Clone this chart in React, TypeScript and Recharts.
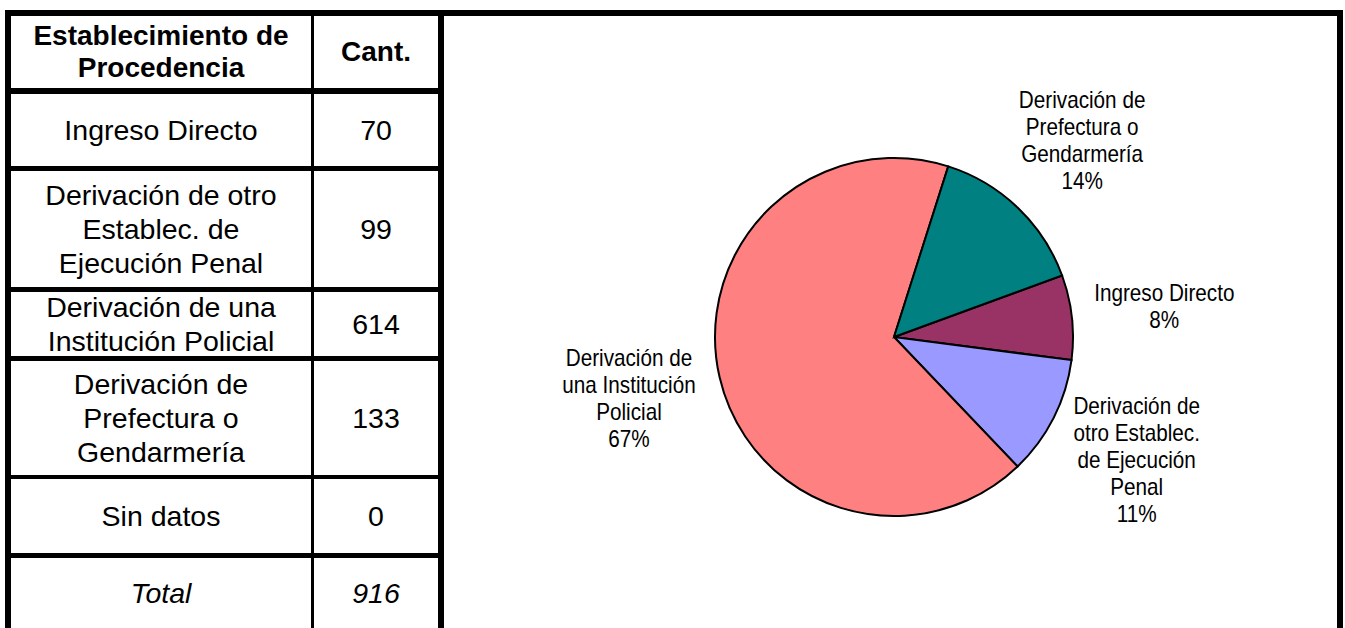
import { PieChart, Pie, Cell } from 'recharts';

// table rows, in table order
const categories = [
  'Ingreso Directo',
  'Derivación de otro\nEstablec. de\nEjecución Penal',
  'Derivación de una\nInstitución Policial',
  'Derivación de\nPrefectura o\nGendarmería',
  'Sin datos',
];
const counts = [70, 99, 614, 133, 0];

// pie labels as wrapped in the original chart
const pieLabelLines = [
  ['Ingreso Directo'],
  ['Derivación de', 'otro Establec.', 'de Ejecución', 'Penal'],
  ['Derivación de', 'una Institución', 'Policial'],
  ['Derivación de', 'Prefectura o', 'Gendarmería'],
  ['Sin datos'],
];
const pieShares = ['8%', '11%', '67%', '14%', '0%'];
const sliceColors = ['#993366', '#9999FF', '#FF8080', '#008080', '#FFFFCC'];

const headers = ['Establecimiento de\nProcedencia', 'Cant.'];
const totalLabel = 'Total';

const FONT = '"Liberation Sans", Arial, sans-serif';
const RAD = Math.PI / 180;

// layout of the table (column edges, row bands, inner rules)
const colLeft = [11, 314];
const colRight = [311, 438];
const rowBands = [
  [16, 88],
  [94, 166],
  [171, 287],
  [292, 356],
  [361, 475],
  [479, 553],
  [558, 628],
];
const hLines = [
  [88, 6],
  [166, 5],
  [287, 5],
  [356, 5],
  [475, 4],
  [553, 5],
];

const total = counts.reduce((a, b) => a + b, 0);

const pieData = categories
  .map((c, i) => ({
    name: c,
    value: counts[i],
    lines: pieLabelLines[i],
    share: pieShares[i],
    color: sliceColors[i],
  }))
  .filter((d) => d.value > 0);

function Rule({ x, y, w, h }: { x: number; y: number; w: number; h: number }) {
  return (
    <div
      style={{ position: 'absolute', left: x, top: y, width: w, height: h, background: '#000' }}
    />
  );
}

function TableCell({
  col,
  row,
  text,
  bold,
  italic,
}: {
  col: number;
  row: number;
  text: string;
  bold?: boolean;
  italic?: boolean;
}) {
  const [top, bottom] = rowBands[row];
  return (
    <div
      style={{
        position: 'absolute',
        left: colLeft[col],
        top,
        width: colRight[col] - colLeft[col],
        height: bottom - top,
        display: 'flex',
        alignItems: 'center',
        justifyContent: 'center',
        textAlign: 'center',
        whiteSpace: 'pre-line',
        fontFamily: FONT,
        fontSize: bold ? 28 : 28.5,
        lineHeight: bold ? '32px' : '34px',
        fontWeight: bold ? 'bold' : 'normal',
        fontStyle: italic ? 'italic' : 'normal',
        color: '#000',
      }}
    >
      {text}
    </div>
  );
}

// labels sit centred on a ring outside the pie, narrow type like Arial Narrow
const renderLabel = (p: any) => {
  const { cx, cy, midAngle, outerRadius, index } = p;
  const d = pieData[index];
  if (!d) return null;
  const dist = outerRadius + 93;
  const x = cx + dist * Math.cos(-midAngle * RAD);
  const y = cy + dist * Math.sin(-midAngle * RAD);
  const lines = [...d.lines, d.share];
  const lh = 27;
  const y0 = y - ((lines.length - 1) * lh) / 2;
  return (
    <text
      x={x}
      y={y0}
      textAnchor="middle"
      fontFamily={FONT}
      fontSize={23}
      fill="#000"
      transform={`translate(${x} 0) scale(0.9 1) translate(${-x} 0)`}
    >
      {lines.map((l, i) => (
        <tspan key={i} x={x} y={y0 + i * lh} dy="0.35em">
          {l}
        </tspan>
      ))}
    </text>
  );
};

export default function App() {
  return (
    <div
      style={{
        position: 'absolute',
        left: 0,
        top: 0,
        width: 1345,
        height: 628,
        background: '#fff',
        overflow: 'hidden',
      }}
    >
      {/* frame */}
      <Rule x={5} y={10} w={1338} h={6} />
      <Rule x={5} y={10} w={6} h={618} />
      <Rule x={1337} y={10} w={6} h={618} />
      <Rule x={438} y={10} w={6} h={618} />
      <Rule x={311} y={16} w={3} h={612} />
      {hLines.map(([y, h], i) => (
        <Rule key={i} x={11} y={y} w={427} h={h} />
      ))}

      {/* table */}
      <TableCell col={0} row={0} text={headers[0]} bold />
      <TableCell col={1} row={0} text={headers[1]} bold />
      {categories.map((c, i) => (
        <TableCell key={'c' + i} col={0} row={i + 1} text={c} />
      ))}
      {counts.map((v, i) => (
        <TableCell key={'v' + i} col={1} row={i + 1} text={String(v)} />
      ))}
      <TableCell col={0} row={6} text={totalLabel} italic />
      <TableCell col={1} row={6} text={String(total)} italic />

      {/* pie */}
      <div style={{ position: 'absolute', left: 444, top: 16 }}>
        <PieChart width={893} height={612} margin={{ top: 0, right: 0, bottom: 0, left: 0 }}>
          <Pie
            data={pieData}
            dataKey="value"
            nameKey="name"
            cx={450}
            cy={321}
            outerRadius={179}
            startAngle={20.1}
            endAngle={-339.9}
            stroke="#000"
            strokeWidth={2}
            label={renderLabel}
            labelLine={false}
            isAnimationActive={false}
          >
            {pieData.map((d, i) => (
              <Cell key={i} fill={d.color} />
            ))}
          </Pie>
        </PieChart>
      </div>
    </div>
  );
}
